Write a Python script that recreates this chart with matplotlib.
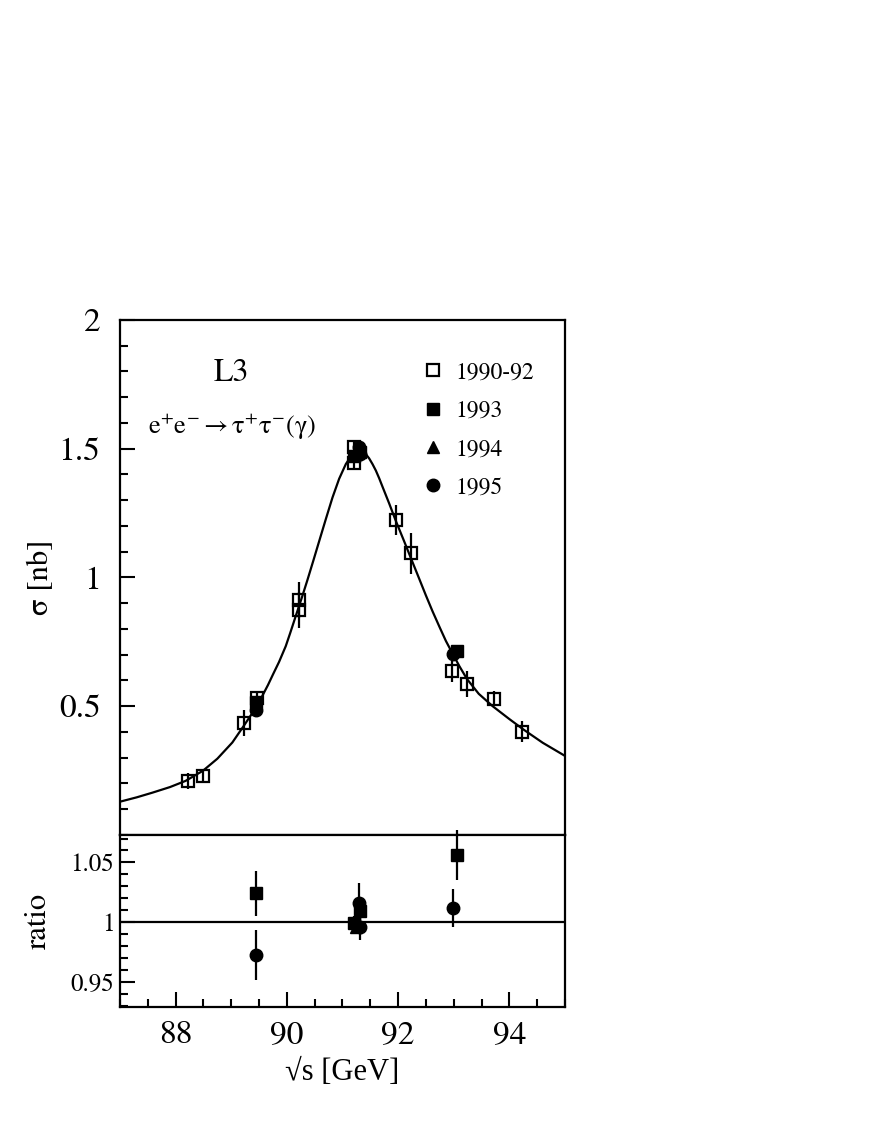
import numpy as np
import matplotlib.pyplot as plt
from matplotlib.lines import Line2D
from matplotlib.ticker import MultipleLocator

plt.rcParams['font.family'] = ['STIXGeneral', 'DejaVu Serif']
plt.rcParams['mathtext.fontset'] = 'stix'

# fit curve
fit_x = [86.98, 87.3, 87.58, 87.9, 88.18, 88.49, 88.75, 89.02, 89.23, 89.47, 89.66,
         89.75, 89.86, 89.98, 90.06, 90.16, 90.27, 90.37, 90.48, 90.58, 90.70, 90.82,
         90.94, 91.06, 91.12, 91.17, 91.22, 91.27, 91.32, 91.38, 91.43, 91.48, 91.54,
         91.6, 91.66, 91.72, 91.84, 91.96, 92.1, 92.23, 92.37, 92.5, 92.62, 92.75,
         92.86, 92.98, 93.1, 93.24, 93.45, 93.7, 94.0, 94.25, 94.6, 95.0]
fit_s = [0.128, 0.146, 0.164, 0.186, 0.210, 0.249, 0.296, 0.359, 0.425, 0.503, 0.582,
         0.623, 0.672, 0.733, 0.784, 0.85, 0.922, 0.99, 1.068, 1.14, 1.226, 1.31,
         1.383, 1.44, 1.46, 1.472, 1.481, 1.487, 1.488, 1.485, 1.476, 1.462, 1.44,
         1.415, 1.385, 1.352, 1.287, 1.219, 1.145, 1.075, 1.0, 0.93, 0.868, 0.805,
         0.753, 0.704, 0.656, 0.605, 0.548, 0.50, 0.45, 0.41, 0.358, 0.307]

# 1990-92
x_9092 = [88.23, 88.49, 89.23, 89.47, 90.22, 90.22, 91.21, 91.21, 91.96, 92.23,
          92.97, 93.24, 93.72, 94.23]
s_9092 = [0.210, 0.227, 0.434, 0.530, 0.874, 0.913, 1.443, 1.505, 1.223, 1.093,
          0.635, 0.585, 0.529, 0.401]
e_9092 = [0.03, 0.02, 0.05, 0.03, 0.07, 0.07, 0.02, 0.02, 0.06, 0.08,
          0.04, 0.05, 0.03, 0.04]

# 1993
x_93 = [89.45, 91.20, 91.32, 93.05]
s_93 = [0.516, 1.472, 1.486, 0.714]
e_93 = [0.012, 0.01, 0.01, 0.015]
r_93 = [1.024, 0.999, 1.009, 1.056]
re_93 = [0.019, 0.006, 0.008, 0.021]

# 1994
x_94 = [91.25]
s_94 = [1.478]
e_94 = [0.008]
r_94 = [0.996]
re_94 = [0.006]

# 1995
x_95 = [89.45, 91.29, 91.31, 92.98]
s_95 = [0.487, 1.505, 1.480, 0.704]
e_95 = [0.012, 0.01, 0.01, 0.015]
r_95 = [0.972, 1.016, 0.996, 1.012]
re_95 = [0.021, 0.017, 0.011, 0.016]

fig = plt.figure(figsize=(8.72, 11.28), dpi=100)
ax = fig.add_axes([0.1376, 0.2598, 0.5103, 0.4566])
axr = fig.add_axes([0.1376, 0.1075, 0.5103, 0.1523], sharex=ax)

lw = 1.6
ax.plot(fit_x, fit_s, color='black', lw=lw, zorder=1)

ax.errorbar(x_9092, s_9092, yerr=e_9092, fmt='s', ms=9, mfc='none', mec='black',
            mew=1.6, ecolor='black', elinewidth=lw, capsize=0, zorder=2)
ax.errorbar(x_93, s_93, yerr=e_93, fmt='s', ms=8.5, color='black',
            elinewidth=lw, capsize=0, zorder=3)
ax.errorbar(x_94, s_94, yerr=e_94, fmt='^', ms=8.5, color='black',
            elinewidth=lw, capsize=0, zorder=3)
ax.errorbar(x_95, s_95, yerr=e_95, fmt='o', ms=9, color='black',
            elinewidth=lw, capsize=0, zorder=3)

axr.axhline(1.0, color='black', lw=lw, zorder=1)
for xs, rs, es, m, s in [(x_93, r_93, re_93, 's', 8.5), (x_94, r_94, re_94, '^', 8.5),
                         (x_95, r_95, re_95, 'o', 9)]:
    eb = axr.errorbar(xs, rs, yerr=es, fmt=m, ms=s, color='black',
                      elinewidth=lw, capsize=0, zorder=3)
    for art in eb.lines[2]:
        art.set_clip_on(False)

# axes setup
ax.set_xlim(87, 95)
ax.set_ylim(0, 2)
ax.set_yticks([0.5, 1, 1.5, 2])
ax.set_yticklabels(['0.5', '1', '1.5', '2'])
ax.yaxis.set_minor_locator(MultipleLocator(0.1))
ax.tick_params(axis='x', which='both', bottom=False, labelbottom=False)
ax.tick_params(axis='y', which='both', direction='in', right=False, labelsize=24, pad=14)
ax.tick_params(axis='y', which='major', length=11, width=1.5)
ax.tick_params(axis='y', which='minor', length=6, width=1.5)

axr.set_ylim(0.929, 1.073)
axr.set_yticks([0.95, 1, 1.05])
axr.set_yticklabels(['0.95', '1', '1.05'])
axr.yaxis.set_minor_locator(MultipleLocator(0.01))
axr.set_xticks([88, 90, 92, 94])
axr.set_xticklabels(['88', '90', '92', '94'])
axr.xaxis.set_minor_locator(MultipleLocator(0.5))
axr.tick_params(axis='y', which='both', direction='in', right=False, labelsize=18, pad=4)
axr.tick_params(axis='x', which='both', direction='in', top=False, labelsize=24, pad=10)
axr.tick_params(which='major', length=11, width=1.5)
axr.tick_params(which='minor', length=6, width=1.5)

for a in (ax, axr):
    for sp in a.spines.values():
        sp.set_linewidth(1.6)

ax.set_ylabel('σ [nb]', fontsize=22)
ax.yaxis.set_label_coords(-0.145, 0.5)
axr.set_ylabel('ratio', fontsize=22)
axr.yaxis.set_label_coords(-0.15, 0.5)
axr.set_xlabel('√s [GeV]', fontsize=22, family=['Liberation Serif', 'DejaVu Serif'])
axr.xaxis.set_label_coords(0.5, -0.30)

ax.text(0.251, 0.8965, 'L3', transform=ax.transAxes, fontsize=23,
        ha='center', va='center')
ax.text(0.253, 0.793, r'$\mathrm{e^{+}e^{-}\rightarrow\tau^{+}\tau^{-}(\gamma)}$',
        transform=ax.transAxes, fontsize=19, ha='center', va='center')

handles = [Line2D([], [], ls='none', marker='s', ms=8.5, mfc='none', mec='black', mew=1.6),
           Line2D([], [], ls='none', marker='s', ms=8, color='black'),
           Line2D([], [], ls='none', marker='^', ms=8.5, color='black'),
           Line2D([], [], ls='none', marker='o', ms=9, color='black')]
labels = ['1990-92', '1993', '1994', '1995']
ax.legend(handles, labels, loc='upper left', bbox_to_anchor=(0.677, 0.918),
          frameon=False, fontsize=17, handlelength=1.0, handletextpad=0.45,
          labelspacing=0.71, borderpad=0, borderaxespad=0)

fig.savefig('out.png', dpi=100)
